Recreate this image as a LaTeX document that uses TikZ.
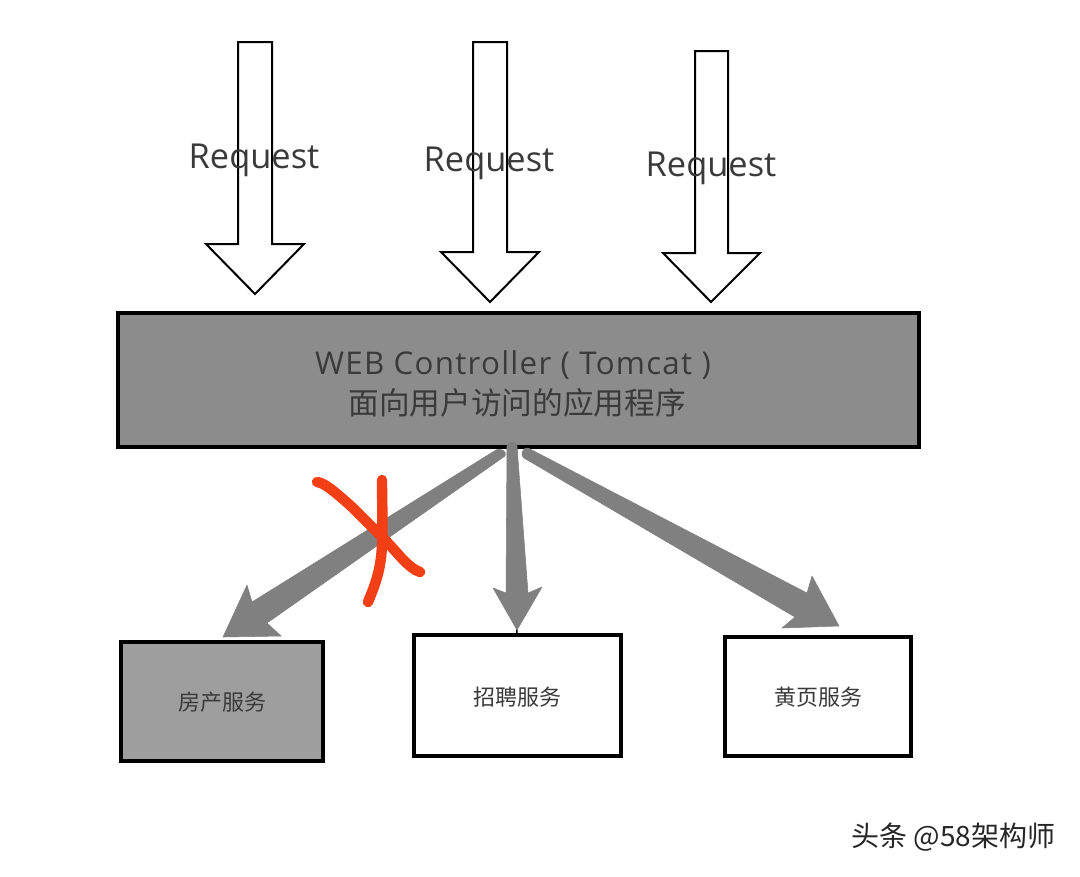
\documentclass[tikz,border=0pt]{standalone}
\usepackage{fontspec}
\setmainfont{Open Sans}
\newfontfamily\widesans[LetterSpace=4]{Open Sans}
\newfontfamily\cjk{Noto Sans CJK SC}
\usetikzlibrary{calc}
\definecolor{txt}{HTML}{3A3A3A}
\definecolor{arrowgrey}{HTML}{808080}
\definecolor{redmark}{HTML}{F23F16}
\tikzset{
  x=0.75pt,y=-0.75pt,
  blockarrow/.style={draw=black,line width=1.5pt,fill=white,line join=miter},
  reqlabel/.style={font=\fontsize{25.8}{28}\selectfont,text=txt,inner sep=0pt},
  servicebox/.style={draw=black,line width=2.4pt,anchor=north west,inner sep=0pt,outer sep=0pt},
  servicelabel/.style={font=\cjk\fontsize{16.5}{20}\selectfont,text=txt,inner sep=0pt},
  greyarrow/.style={fill=arrowgrey,draw=arrowgrey,line width=0.4pt,line join=round},
  cross/.style={draw=redmark,line width=7.8pt,line cap=round,line join=round},
}
\begin{document}
\begin{tikzpicture}
\useasboundingbox (0,0) rectangle (1080,876);
\fill[white] (0,0) rectangle (1080,876);
% request arrows
\draw[blockarrow] (238,42)--(272,42)--(272,244)--(304,244)--(255,294)--(206,244)--(238,244)--cycle;
\draw[blockarrow] (473,42)--(507,42)--(507,252)--(539,252)--(490,302)--(441,252)--(473,252)--cycle;
\draw[blockarrow] (695,51)--(728,51)--(728,253)--(760,253)--(711,302)--(663,253)--(695,253)--cycle;
\node[reqlabel] (req1) at (254,160) {Request};
\node[reqlabel] (req2) at (489,163) {Request};
\node[reqlabel] (req3) at (711,168) {Request};
% boxes
\node[servicebox,fill=black!45,minimum width=600.75pt,minimum height=100.5pt] (web) at (118,313) {};
\node[servicebox,fill=black!38,minimum width=151.5pt,minimum height=89.25pt] (fang) at (121,642) {};
\node[servicebox,fill=white,minimum width=155.25pt,minimum height=90.75pt] (zhao) at (414,635) {};
\node[servicebox,fill=white,minimum width=139.5pt,minimum height=89.25pt] (huang) at (725,637) {};
\node[inner sep=0pt,text=txt,font=\widesans\fontsize{23.5}{28}\selectfont] (webt1) at (513,365) {WEB Controller ( Tomcat )};
\node[inner sep=0pt,text=txt,font=\cjk\fontsize{23}{26}\selectfont] (webt2) at (517,403) {面向用户访问的应用程序};
\node[servicelabel] (fangt) at ([yshift=-0.5pt]fang.center) {房产服务};
\node[servicelabel] (zhaot) at ([yshift=-1pt]zhao.center) {招聘服务};
\node[servicelabel] (huangt) at ([yshift=-0.2pt]huang.center) {黄页服务};
% connectors
\draw[black,line width=1pt] ([xshift=-1.5pt]web.south) -- ([xshift=-0.5pt]zhao.north);
\fill[greyarrow]
  (496,450) .. controls (500,447) and (508,452) .. (505,456) --(267,623)--(281,636)--(223,637)--(247,585)--(252,602)--cycle;
\fill[greyarrow]
  (507,446) .. controls (507,441) and (517,441) .. (517,446) --(528,593)--(542,587)--(517,630)--(493,588)--(506,593)--cycle;
\fill[greyarrow]
  (528,448)--(807,593)--(812,576)--(839,626)--(782,628)--(795,617)--(524,458) .. controls (520,456) and (522,447) .. (528,448) --cycle;
% red cross
\draw[cross] (317,482) .. controls (325,483) and (335,492) .. (352,507) .. controls (365,520) and (375,530) .. (385,540) .. controls (398,553) and (408,568) .. (420,572);
\draw[cross] (382,480) .. controls (382,500) and (383,525) .. (382,545) .. controls (381,570) and (375,585) .. (368,602);
% watermark
\node[inner sep=0pt,anchor=west,text=black!85,font=\cjk\fontsize{21}{24}\selectfont] (mark) at (851,837) {头条 @58架构师};
\end{tikzpicture}
\end{document}
